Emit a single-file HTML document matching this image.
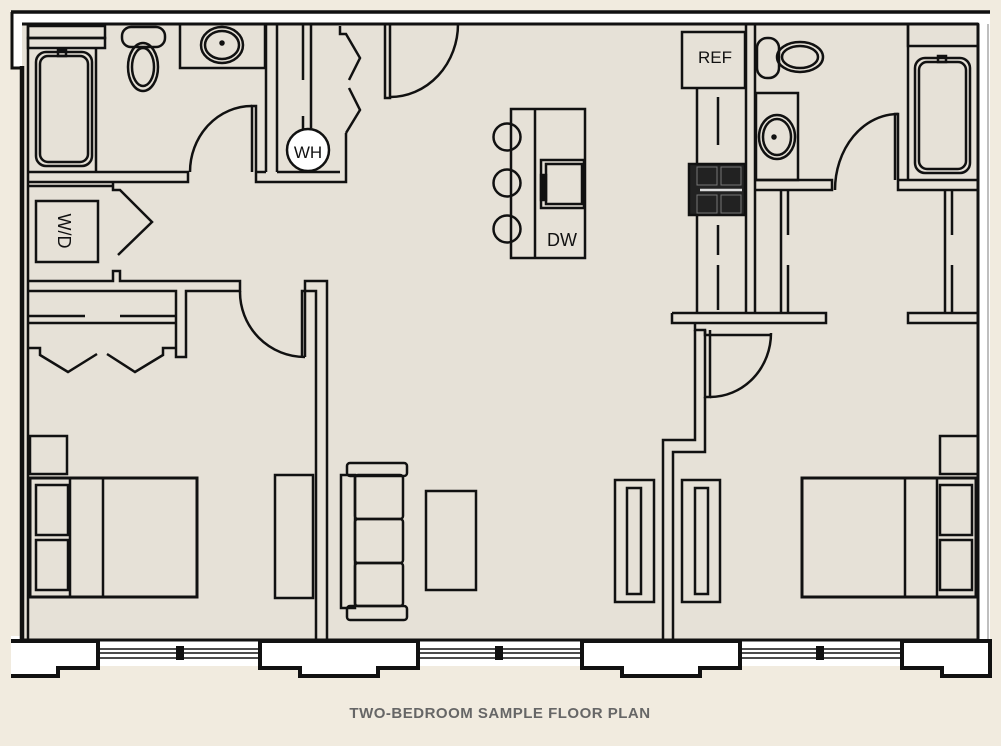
<!DOCTYPE html>
<html><head><meta charset="utf-8"><style>
html,body{margin:0;padding:0;background:#f1ebdf;}
svg{display:block}
</style></head><body>
<svg width="1001" height="746" viewBox="0 0 1001 746" xmlns="http://www.w3.org/2000/svg" font-family="Liberation Sans, sans-serif">
<rect x="0" y="0" width="1001" height="746" fill="#f1ebdf"/>
<!-- white frame pieces -->
<rect x="11" y="11" width="979" height="14" fill="#fff"/>
<rect x="11" y="11" width="12" height="57" fill="#fff"/>
<rect x="976" y="11" width="14" height="660" fill="#fff"/>
<rect x="11" y="636" width="979" height="30" fill="#fff"/>
<!-- interior -->
<rect x="22" y="24" width="956" height="616" fill="#e6e1d7"/>
<g fill="none" stroke="#111" stroke-width="2.5">
<!-- outer -->
<line x1="11" y1="12" x2="990" y2="12" stroke-width="3.5"/>
<polyline points="12,12 12,68 23,68" stroke-width="3"/>
<line x1="22" y1="66" x2="22" y2="640" stroke-width="4.5"/>
<line x1="28" y1="24" x2="28" y2="640"/>
<line x1="22" y1="24" x2="978" y2="24" stroke-width="3"/>
<line x1="978" y1="24" x2="978" y2="640" stroke-width="3"/>
<line x1="988" y1="24" x2="988" y2="640" stroke="#aaa" stroke-width="1.5"/>
<line x1="22" y1="640" x2="978" y2="640" stroke-width="3"/>
<!-- bottom blocks -->
<g stroke-width="4" fill="#fff">
<path d="M11,641 L98,641 L98,668 L58,668 L58,676 L11,676"/>
<path d="M260,641 L418,641 L418,668 L378,668 L378,676 L300,676 L300,668 L260,668 Z"/>
<path d="M582,641 L740,641 L740,668 L700,668 L700,676 L622,676 L622,668 L582,668 Z"/>
<path d="M902,641 L990,641 L990,676 L942,676 L942,668 L902,668 Z"/>
</g>
<g stroke-width="1.5">
<line x1="98" y1="649" x2="260" y2="649"/><line x1="98" y1="653" x2="260" y2="653"/><line x1="98" y1="658" x2="260" y2="658"/>
<line x1="418" y1="649" x2="582" y2="649"/><line x1="418" y1="653" x2="582" y2="653"/><line x1="418" y1="658" x2="582" y2="658"/>
<line x1="740" y1="649" x2="902" y2="649"/><line x1="740" y1="653" x2="902" y2="653"/><line x1="740" y1="658" x2="902" y2="658"/>
</g>
<rect x="176" y="646" width="8" height="14" fill="#111" stroke="none"/>
<rect x="495" y="646" width="8" height="14" fill="#111" stroke="none"/>
<rect x="816" y="646" width="8" height="14" fill="#111" stroke="none"/>

<!-- top-left bath -->
<rect x="28" y="26" width="77" height="12"/>
<rect x="28" y="38" width="77" height="10"/>
<line x1="96" y1="48" x2="96" y2="172"/>
<rect x="36" y="52" width="56" height="114" rx="10"/>
<rect x="40" y="56" width="48" height="106" rx="8"/>
<rect x="58" y="50" width="8" height="6"/>
<rect x="122" y="27" width="43" height="20" rx="9"/>
<ellipse cx="143" cy="67" rx="15" ry="24"/><ellipse cx="143" cy="67" rx="11" ry="19"/>
<rect x="180" y="24" width="85" height="44"/>
<ellipse cx="222" cy="45" rx="21" ry="18"/><ellipse cx="222" cy="45" rx="17" ry="14"/>
<circle cx="222" cy="43" r="1.5" fill="#111"/>
<line x1="266" y1="24" x2="266" y2="172"/>
<polyline points="28,172 188,172 188,182 28,182"/>
<polyline points="252,172 252,106 256,106 256,182 346,182 346,133"/>
<path d="M190,172 A62,66 0 0 1 252,106"/>
<polyline points="256,172 266,172"/>
<line x1="277" y1="24" x2="277" y2="172"/><line x1="277" y1="172" x2="340" y2="172"/>
<line x1="303" y1="24" x2="303" y2="80"/><line x1="311" y1="24" x2="311" y2="128"/>
<line x1="303" y1="116" x2="303" y2="130"/>
<circle cx="308" cy="150" r="21" fill="#fff"/>
<text x="308" y="158" font-size="17" fill="#111" stroke="none" text-anchor="middle">WH</text>
<polyline points="340,26 340,34 346,34 360,58 349,80"/>
<polyline points="349,88 360,110 346,133"/>
<!-- entry door -->
<polyline points="385,24 385,98 390,98 390,24"/>
<path d="M390,97 A68,73 0 0 0 458,24"/>

<!-- W/D -->
<line x1="28" y1="186" x2="113" y2="186"/>
<polyline points="113,182 113,190 120,190 152,222 118,255"/>
<rect x="36" y="201" width="62" height="61"/>
<text transform="translate(58,231) rotate(90)" font-size="18" fill="#111" stroke="none" text-anchor="middle">W/D</text>
<polyline points="28,281 113,281 113,271 120,271 120,281 240,281 240,291 186,291 186,357 176,357 176,291 28,291"/>
<line x1="28" y1="316" x2="85" y2="316"/><line x1="120" y1="316" x2="176" y2="316"/>
<line x1="28" y1="323" x2="176" y2="323"/>
<polyline points="28,348 40,348 40,355 68,372 97,354"/>
<polyline points="107,354 135,372 163,355 163,348 176,348"/>
<!-- bedroom door -->
<path d="M240,291 A65,65 0 0 0 305,357"/>
<polyline points="302,357 302,291 305,291 305,357"/>
<polyline points="305,291 305,281 327,281 327,640"/>
<polyline points="316,640 316,291 305,291"/>

<!-- left bed -->
<rect x="30" y="436" width="37" height="38"/>
<rect x="30" y="478" width="167" height="119" stroke-width="3"/>
<rect x="36" y="485" width="32" height="50"/><rect x="36" y="540" width="32" height="50"/>
<line x1="70" y1="478" x2="70" y2="597"/><line x1="103" y1="478" x2="103" y2="597"/>
<rect x="275" y="475" width="38" height="123"/>
<!-- sofa -->
<rect x="347" y="463" width="60" height="13" rx="3"/>
<rect x="347" y="606" width="60" height="14" rx="3"/>
<rect x="341" y="475" width="14" height="133"/>
<rect x="355" y="475" width="48" height="44" rx="3"/><rect x="355" y="519" width="48" height="44" rx="3"/><rect x="355" y="563" width="48" height="43" rx="3"/>
<rect x="426" y="491" width="50" height="99"/>
<!-- TV -->
<rect x="615" y="480" width="39" height="122"/><rect x="627" y="488" width="14" height="106"/>
<rect x="682" y="480" width="38" height="122"/><rect x="695" y="488" width="13" height="106"/>

<!-- island -->
<rect x="511" y="109" width="74" height="149"/>
<line x1="535" y1="109" x2="535" y2="258"/>
<rect x="541" y="160" width="43" height="48"/><rect x="546" y="164" width="36" height="40"/>
<rect x="541" y="175" width="5" height="25" fill="#111"/>
<text x="562" y="246" font-size="18" fill="#111" stroke="none" text-anchor="middle">DW</text>
<circle cx="507" cy="137" r="13.5"/><circle cx="507" cy="183" r="13.5"/><circle cx="507" cy="229" r="13.5"/>

<!-- kitchen counter -->
<rect x="682" y="32" width="63" height="56"/>
<text x="715" y="63" font-size="17" fill="#111" stroke="none" text-anchor="middle">REF</text>
<line x1="697" y1="88" x2="697" y2="313"/>
<line x1="718" y1="97" x2="718" y2="145"/><line x1="718" y1="225" x2="718" y2="255"/><line x1="718" y1="265" x2="718" y2="310"/>
<rect x="689" y="164" width="56" height="51" fill="#222"/>
<g stroke="#777" stroke-width="1"><rect x="697" y="167" width="20" height="18"/><rect x="721" y="167" width="20" height="18"/><rect x="697" y="195" width="20" height="18"/><rect x="721" y="195" width="20" height="18"/></g>
<line x1="700" y1="190" x2="742" y2="190" stroke="#ddd" stroke-width="2.5"/>
<line x1="746" y1="24" x2="746" y2="313"/><line x1="755" y1="24" x2="755" y2="313"/>
<polyline points="672,313 672,323 826,323 826,313 672,313"/>
<polyline points="695,323 695,330 705,330 705,335 771,335"/>
<!-- center wall -->
<polyline points="695,330 695,440 663,440 663,640"/>
<polyline points="705,330 705,397 710,397 710,330"/>
<polyline points="705,397 705,452 673,452 673,640"/>
<path d="M710,397 A61,64 0 0 0 771,333"/>

<!-- right bath -->
<rect x="757" y="38" width="22" height="40" rx="10"/>
<ellipse cx="800" cy="57" rx="23" ry="15"/><ellipse cx="800" cy="57" rx="18" ry="11"/>
<rect x="756" y="93" width="42" height="87"/>
<ellipse cx="777" cy="137" rx="18" ry="22"/><ellipse cx="777" cy="137" rx="14" ry="18"/>
<circle cx="774" cy="137" r="1.5" fill="#111"/>
<polyline points="756,180 832,180 832,190 756,190"/>
<path d="M835,190 A63,76 0 0 1 898,114"/>
<polyline points="895,180 895,114 898,114 898,190 978,190"/>
<line x1="898" y1="180" x2="978" y2="180"/>
<line x1="908" y1="24" x2="908" y2="180"/>
<rect x="908" y="24" width="70" height="22"/>
<rect x="915" y="58" width="55" height="115" rx="10"/>
<rect x="919" y="62" width="47" height="107" rx="8"/>
<rect x="938" y="56" width="8" height="6"/>
<line x1="781" y1="190" x2="781" y2="313"/><line x1="788" y1="190" x2="788" y2="235"/><line x1="788" y1="265" x2="788" y2="313"/>
<line x1="945" y1="190" x2="945" y2="313"/><line x1="952" y1="190" x2="952" y2="235"/><line x1="952" y1="265" x2="952" y2="313"/>
<rect x="908" y="313" width="70" height="10"/>

<!-- right bed -->
<rect x="940" y="436" width="38" height="38"/>
<rect x="802" y="478" width="174" height="119" stroke-width="3"/>
<rect x="940" y="485" width="32" height="50"/><rect x="940" y="540" width="32" height="50"/>
<line x1="937" y1="478" x2="937" y2="597"/><line x1="905" y1="478" x2="905" y2="597"/>
</g>
<text x="500" y="718" font-size="15" font-weight="bold" fill="#666" text-anchor="middle" letter-spacing="0.5">TWO-BEDROOM SAMPLE FLOOR PLAN</text>
</svg>
</body></html>
